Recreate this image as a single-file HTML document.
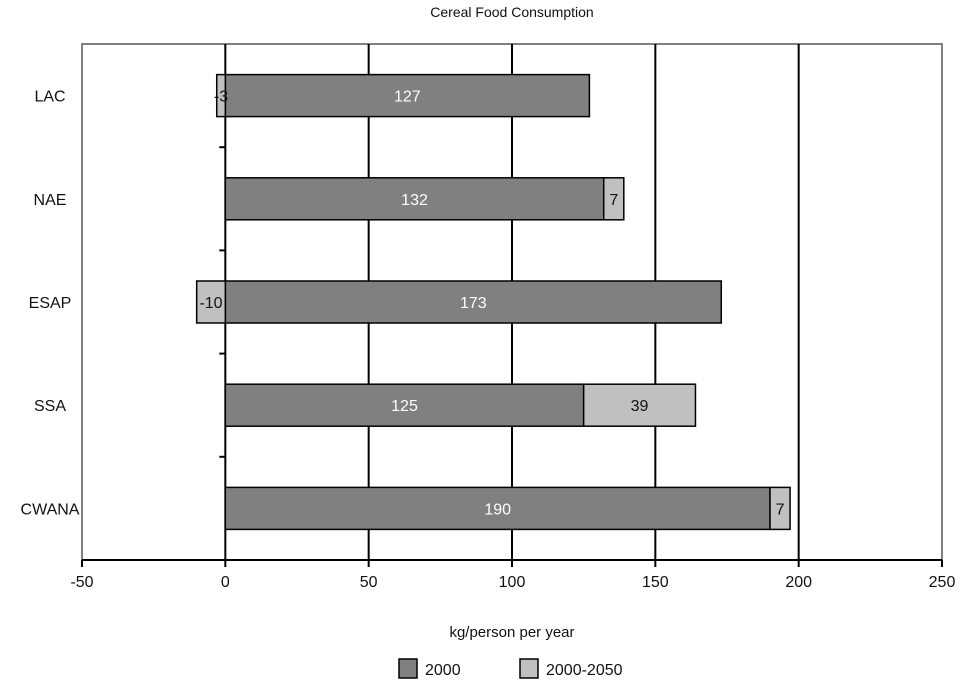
<!DOCTYPE html>
<html><head><meta charset="utf-8"><style>
body{margin:0;background:#fff;font-family:"Liberation Sans",Arial,sans-serif;}
svg text{font-family:"Liberation Sans",Arial,sans-serif;}
</style></head><body>
<svg id="chart" width="960" height="687" viewBox="0 0 960 687" xmlns="http://www.w3.org/2000/svg">
<text x="512" y="17" font-size="14" text-anchor="middle" fill="#111">Cereal Food Consumption</text>
<rect x="82" y="44" width="860" height="516" fill="#fff" stroke="#808080" stroke-width="2"/>
<g id="grid"></g><g id="bars"></g><g id="axes"></g>
<text x="512" y="637" font-size="15" text-anchor="middle" fill="#111">kg/person per year</text>
<g>
<rect x="399" y="659" width="18" height="19" fill="#808080" stroke="#000" stroke-width="1.5"/>
<text x="425" y="675" font-size="16" fill="#111">2000</text>
<rect x="520" y="659" width="18" height="19" fill="#c0c0c0" stroke="#000" stroke-width="1.5"/>
<text x="546" y="675" font-size="16" fill="#111">2000-2050</text>
</g>
</svg>
<script>
const categories=["LAC","NAE","ESAP","SSA","CWANA"];
const base2000=[127,132,173,125,190];
const change=[-3,7,-10,39,7];
const xTicks=[-50,0,50,100,150,200,250];
const NS="http://www.w3.org/2000/svg";
const x0=82,x1=942,y0=44,y1=560,xmin=-50,xmax=250;
function xs(v){return x0+(v-xmin)/(xmax-xmin)*(x1-x0);}
const band=(y1-y0)/categories.length;
function yc(i){return y0+band*(i+0.5);}
function mk(tag,attrs,parent){const e=document.createElementNS(NS,tag);for(const k in attrs)e.setAttribute(k,attrs[k]);parent.appendChild(e);return e;}
const grid=document.getElementById('grid'),bars=document.getElementById('bars'),axes=document.getElementById('axes');
xTicks.forEach(t=>{
  if(t>xmin&&t<xmax){const l=mk('line',{x1:xs(t),x2:xs(t),y1:y0,y2:y1,stroke:'#000','stroke-width':2},grid);
  
  }
  const tk=mk('line',{x1:xs(t),x2:xs(t),y1:y1,y2:y1+7,stroke:'#000','stroke-width':2},axes);
  
  
  const tx=mk('text',{x:xs(t),y:y1+27,'font-size':16,'text-anchor':'middle',fill:'#111'},axes);tx.textContent=t;
  
  
});
const ax=mk('line',{x1:x0,x2:x1,y1:y1,y2:y1,stroke:'#000','stroke-width':2},axes);


for(let i=1;i<categories.length;i++){const t=mk('line',{x1:xs(0)-6,x2:xs(0),y1:y0+band*i,y2:y0+band*i,stroke:'#000','stroke-width':2},axes);
  
  }
const bh=42;
categories.forEach((c,i)=>{
  const y=yc(i);
  const lb=mk('text',{x:50,y:y+6,'font-size':16,'text-anchor':'middle',fill:'#111'},axes);lb.textContent=c;
  
  
  const b=base2000[i],d=change[i];
  const r1=mk('rect',{x:xs(0),y:y-bh/2,width:xs(b)-xs(0),height:bh,fill:'#808080',stroke:'#000','stroke-width':1.5},bars);
  
  
  let a,e;if(d>=0){a=b;e=b+d;}else{a=d;e=0;}
  const r2=mk('rect',{x:xs(a),y:y-bh/2,width:xs(e)-xs(a),height:bh,fill:'#c0c0c0',stroke:'#000','stroke-width':1.5},bars);
  
  
  const t1=mk('text',{x:(xs(0)+xs(b))/2,y:y+6,'font-size':16,'text-anchor':'middle',fill:'#fff'},bars);t1.textContent=b;
  
  
  const t2=mk('text',{x:(xs(a)+xs(e))/2,y:y+6,'font-size':16,'text-anchor':'middle',fill:'#111'},bars);t2.textContent=d;
  
  
});
</script>
</body></html>
